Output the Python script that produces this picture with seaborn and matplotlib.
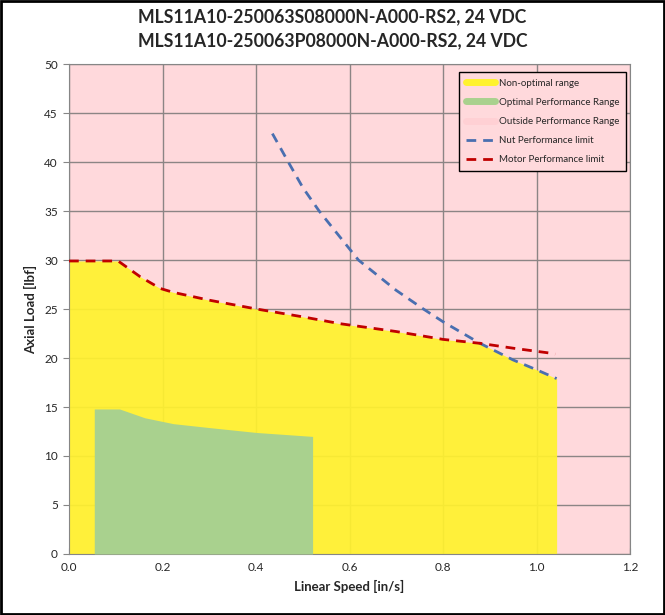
import numpy as np
import matplotlib
matplotlib.use("Agg")
import matplotlib.pyplot as plt
import matplotlib.ticker as mtick
from matplotlib.lines import Line2D
from matplotlib.patches import Rectangle
import seaborn as sns

# Data
title_lines = ["MLS11A10-250063S08000N-A000-RS2, 24 VDC",
               "MLS11A10-250063P08000N-A000-RS2, 24 VDC"]

motor_speed = [0.0, 0.105, 0.152, 0.195, 0.223, 0.30, 0.401, 0.50, 0.580, 0.70, 0.80, 0.879, 0.95, 1.029, 1.04]
motor_load = [29.9, 29.9, 28.3, 27.1, 26.7, 25.9, 25.0, 24.2, 23.5, 22.7, 21.9, 21.5, 21.0, 20.5, 20.4]

nut_speed = [0.435, 0.469, 0.50, 0.535, 0.619, 0.70, 0.758, 0.80, 0.879, 0.95, 1.0, 1.043]
nut_load = [42.9, 40.0, 37.4, 35.0, 30.0, 26.9, 25.0, 23.7, 21.5, 19.8, 18.8, 17.9]

# upper boundary of the non-optimal (yellow) region
yellow_speed = [0.0, 0.105, 0.152, 0.195, 0.223, 0.30, 0.401, 0.50, 0.580, 0.70, 0.80, 0.879, 0.95, 1.0, 1.043]
yellow_load = [29.9, 29.9, 28.3, 27.1, 26.7, 25.9, 25.0, 24.2, 23.5, 22.7, 21.9, 21.5, 19.8, 18.8, 17.9]

# optimal (green) region
green_speed = [0.054, 0.108, 0.162, 0.223, 0.30, 0.401, 0.521]
green_load = [14.8, 14.8, 13.9, 13.3, 12.9, 12.4, 12.0]

legend_labels = ["Non-optimal range", "Optimal Performance Range", "Outside Performance Range",
                 "Nut Performance limit", "Motor Performance limit"]

pink = "#FFD9DC"
yellow = "#FFF22E"
green = "#A9D18E"
blue = "#4A6FB0"
red = "#C00000"

sns.set_style("white", {"axes.facecolor": pink, "axes.edgecolor": "#868686"})
plt.rcParams["font.family"] = ["Lato", "DejaVu Sans"]

fig = plt.figure(figsize=(6.65, 6.15), dpi=100)
ax = fig.add_axes([0.1038, 0.0992, 0.8436, 0.7967])

ax.set_xlim(0, 1.2)
ax.set_ylim(0, 50)

# grid behind the fills
ax.set_axisbelow(True)
ax.grid(True, which="major", color="#8C8585", linewidth=1.0)

ax.fill_between(yellow_speed, 0, yellow_load, color=yellow, alpha=0.93, linewidth=0, zorder=2)
ax.fill_between(green_speed, 0, green_load, color=green, linewidth=0, zorder=3)

sns.lineplot(x=nut_speed, y=nut_load, ax=ax, color=blue, linestyle=(0, (3.5, 2.5)),
             linewidth=2, zorder=4, legend=False)
sns.lineplot(x=motor_speed, y=motor_load, ax=ax, color=red, linestyle=(0, (3.5, 2.5)),
             linewidth=2, zorder=5, legend=False)

ax.xaxis.set_major_locator(mtick.MultipleLocator(0.2))
ax.xaxis.set_minor_locator(mtick.MultipleLocator(0.04))
ax.xaxis.set_major_formatter(mtick.FormatStrFormatter("%.1f"))
ax.yaxis.set_major_locator(mtick.MultipleLocator(5))
ax.tick_params(axis="x", which="both", direction="in", length=4, color="#868686",
               labelsize=8.5, pad=6)
ax.tick_params(axis="y", which="major", direction="out", length=4, color="#868686",
               labelsize=8.5, pad=4)
ax.tick_params(axis="x", which="minor", length=3)
ax.tick_params(left=True, bottom=True)
for s in ax.spines.values():
    s.set_color("#868686")

ax.set_xlabel("Linear Speed [in/s]", fontsize=9.5, fontweight="bold", labelpad=5)
ax.set_ylabel("Axial Load [lbf]", fontsize=9.5, fontweight="bold", labelpad=5)

fig.text(0.5, 0.972, title_lines[0], ha="center", va="center", fontsize=12.7, fontweight="bold")
fig.text(0.5, 0.934, title_lines[1], ha="center", va="center", fontsize=12.7, fontweight="bold")

handles = [
    Line2D([0], [0], color=yellow, linewidth=5),
    Line2D([0], [0], color=green, linewidth=5),
    Line2D([0], [0], color="#FFD0D4", linewidth=5),
    Line2D([0], [0], color=blue, linewidth=2, linestyle=(0, (3.5, 2.5))),
    Line2D([0], [0], color=red, linewidth=2, linestyle=(0, (3.5, 2.5))),
]
leg = ax.legend(handles, legend_labels, loc="upper right", bbox_to_anchor=(0.993, 0.984),
                borderaxespad=0, fontsize=7, frameon=True, fancybox=False, framealpha=1,
                edgecolor="black", labelspacing=1.05, handlelength=3.0,
                handletextpad=0.35, borderpad=0.7)
leg.get_frame().set_linewidth(1.0)
leg.set_zorder(10)

# black border around the whole picture
fig.patches.append(Rectangle((0.002, 0.002), 0.996, 0.996, transform=fig.transFigure,
                             fill=False, edgecolor="black", linewidth=2))

fig.savefig("out.png", dpi=100)
